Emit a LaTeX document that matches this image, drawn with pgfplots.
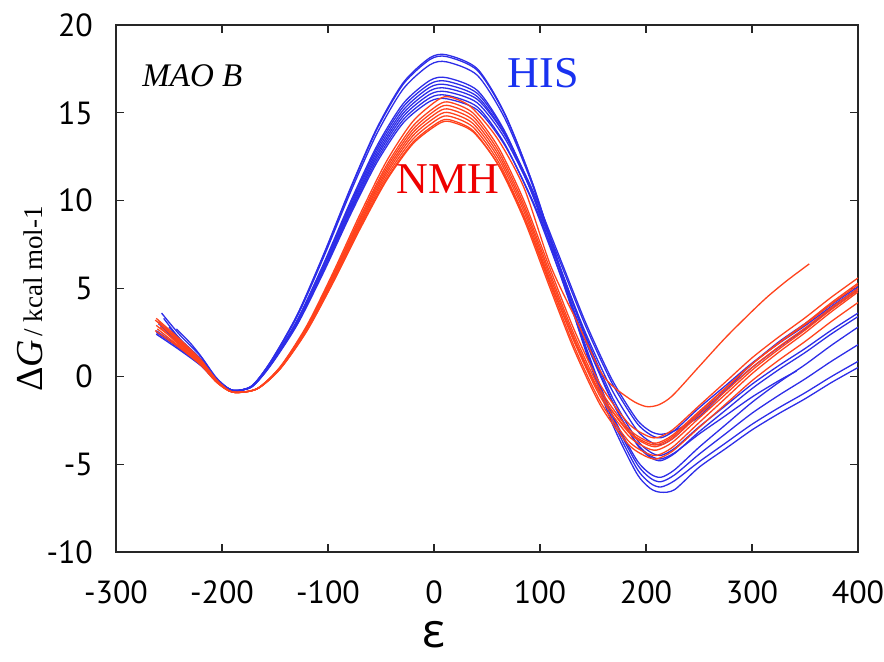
\documentclass[border=0pt]{standalone}
\usepackage{fontspec}
\setmainfont{Liberation Serif}
\newfontfamily\tickfont{PT Sans}
\newfontfamily\epsfont{Open Sans}
\usepackage{pgfplots}
\pgfplotsset{compat=1.18}
\definecolor{hisblue}{RGB}{45,45,232}
\definecolor{nmhred}{RGB}{255,66,28}
\definecolor{histext}{RGB}{25,50,240}
\definecolor{nmhtext}{RGB}{238,0,0}
\begin{document}
\begin{tikzpicture}
\begin{axis}[name=ax,
  scale only axis, width=371pt, height=263.5pt,
  xmin=-300, xmax=400, ymin=-10, ymax=20,
  clip mode=individual,
  xtick={-300,-200,-100,0,100,200,300,400},
  xticklabels={-300,-200,-100,0,100,200,300,400},
  ytick={-10,-5,0,5,10,15,20},
  yticklabels={-10,-5,0,5,10,15,20},
  tick align=inside, major tick length=3.8pt,
  axis line style={line width=0.75pt, black!85},
  every tick/.style={black!85, line width=0.6pt},
  ticklabel style={font=\tickfont\fontsize{16}{18}\selectfont},
  xticklabel style={yshift=-11pt},
  yticklabel style={xshift=-8pt},
  xlabel={ε},
  xlabel style={font=\epsfont\fontsize{24}{26}\selectfont, at={(axis description cs:0.4286,-0.1575)}, anchor=center},
  every axis plot/.append style={line width=0.65pt, smooth, tension=0.45},
]
% HIS (blue)
\addplot[hisblue] coordinates {(-257,3.6)(-240,2.37)(-220,1.14)(-205,-0.1)(-190,-0.8)(-172,-0.55)(-154,0.85)(-129,3.51)(-104,6.96)(-79,10.69)(-54,14.12)(-29,16.72)(-4,18.13)(12,18.3)(41,17.50)(67,14.93)(93,10.97)(118,6.24)(143,1.45)(168,-2.67)(191,-5.50)(204,-6.38)(214,-6.6)(227,-6.45)(250,-5.18)(275,-4.12)(300,-3.05)(325,-2.13)(350,-1.28)(375,-0.35)(400,0.5)};
\addplot[hisblue] coordinates {(-262,2.5)(-240,1.58)(-220,0.65)(-205,-0.25)(-190,-0.8)(-172,-0.55)(-154,0.84)(-129,3.48)(-104,6.92)(-79,10.63)(-54,14.04)(-29,16.63)(-4,18.03)(12,18.2)(41,17.41)(67,14.88)(93,10.99)(118,6.33)(143,1.62)(168,-2.43)(191,-5.21)(204,-6.08)(214,-6.3)(227,-5.94)(250,-4.87)(275,-3.80)(300,-2.73)(325,-1.80)(350,-0.94)(375,-0.01)(400,0.85)};
\addplot[hisblue] coordinates {(-260,3.0)(-240,1.94)(-220,0.87)(-205,-0.2)(-190,-0.8)(-172,-0.56)(-154,0.82)(-129,3.42)(-104,6.80)(-79,10.45)(-54,13.80)(-29,16.36)(-4,17.73)(12,17.9)(41,17.13)(67,14.66)(93,10.87)(118,6.33)(143,1.73)(168,-2.23)(191,-4.94)(204,-5.79)(214,-6.0)(227,-5.61)(250,-4.44)(275,-3.27)(300,-2.10)(325,-1.09)(350,-0.15)(375,0.86)(400,1.8)};
\addplot[hisblue] coordinates {(-243,2.7)(-230,1.9)(-220,1.15)(-205,-0.15)(-190,-0.8)(-172,-0.58)(-154,0.74)(-129,3.21)(-104,6.43)(-79,9.91)(-54,13.10)(-29,15.53)(-4,16.84)(12,17.0)(41,16.27)(67,13.92)(93,10.31)(118,5.98)(143,1.61)(168,-2.16)(191,-4.74)(204,-5.55)(214,-5.75)(227,-5.32)(250,-4.04)(275,-2.76)(300,-1.48)(325,-0.36)(350,0.66)(375,1.77)(400,2.8)};
\addplot[hisblue] coordinates {(-258,2.9)(-240,1.86)(-220,0.83)(-205,-0.2)(-190,-0.8)(-172,-0.58)(-154,0.72)(-129,3.17)(-104,6.35)(-79,9.79)(-54,12.95)(-29,15.35)(-4,16.64)(12,16.8)(41,16.10)(67,13.87)(93,10.45)(118,6.34)(143,2.18)(168,-1.39)(191,-3.84)(204,-4.61)(214,-4.8)(227,-4.39)(250,-3.16)(275,-1.93)(300,-0.70)(325,0.37)(350,1.35)(375,2.42)(400,3.4)};
\addplot[hisblue] coordinates {(-255,3.3)(-240,2.15)(-220,1.00)(-205,-0.15)(-190,-0.8)(-172,-0.58)(-154,0.70)(-129,3.12)(-104,6.27)(-79,9.66)(-54,12.79)(-29,15.16)(-4,16.45)(12,16.6)(41,15.92)(67,13.74)(93,10.39)(118,6.38)(143,2.32)(168,-1.17)(191,-3.57)(204,-4.31)(214,-4.5)(227,-4.10)(250,-2.88)(275,-1.67)(300,-0.45)(325,0.60)(350,1.58)(375,2.63)(400,3.6)};
\addplot[hisblue] coordinates {(-262,2.6)(-240,1.65)(-220,0.70)(-205,-0.27)(-190,-0.8)(-172,-0.59)(-154,0.69)(-129,3.08)(-104,6.19)(-79,9.54)(-54,12.63)(-29,14.98)(-4,16.25)(12,16.4)(41,15.76)(67,13.73)(93,10.60)(118,6.86)(143,3.07)(168,-0.19)(191,-2.43)(204,-3.12)(214,-3.3)(227,-3.1)(250,-2.3)(275,-0.8)(300,0.70)(325,1.95)(350,3.00)(375,4.09)(400,5.1)};
\addplot[hisblue] coordinates {(-260,3.1)(-240,2.01)(-220,0.92)(-205,-0.18)(-190,-0.8)(-172,-0.59)(-154,0.67)(-129,3.03)(-104,6.11)(-79,9.42)(-54,12.48)(-29,14.80)(-4,16.05)(12,16.2)(41,15.56)(67,13.53)(93,10.40)(118,6.66)(143,2.87)(168,-0.39)(191,-2.63)(204,-3.32)(214,-3.5)(227,-3.08)(250,-1.80)(275,-0.53)(300,0.75)(325,1.86)(350,2.88)(375,3.98)(400,5.0)};
\addplot[hisblue] coordinates {(-250,2.8)(-240,2.15)(-220,0.8)(-205,-0.2)(-190,-0.8)(-172,-0.6)(-154,0.65)(-129,2.99)(-104,6.03)(-79,9.30)(-54,12.32)(-29,14.61)(-4,15.85)(12,16.0)(41,15.33)(67,13.20)(93,9.91)(118,5.98)(143,1.99)(168,-1.43)(191,-3.78)(204,-4.52)(214,-4.7)(227,-4.35)(250,-3.29)(275,-2.24)(300,-1.18)(325,-0.26)(342,0.3)};
\addplot[hisblue] coordinates {(-262,2.4)(-240,1.50)(-220,0.61)(-205,-0.3)(-190,-0.8)(-172,-0.6)(-154,0.63)(-129,2.94)(-104,5.94)(-79,9.18)(-54,12.16)(-29,14.43)(-4,15.65)(12,15.8)(41,15.16)(67,13.13)(93,10.00)(118,6.26)(143,2.47)(168,-0.79)(191,-3.03)(204,-3.72)(214,-3.9)(227,-3.46)(250,-2.14)(275,-0.82)(300,0.50)(325,1.64)(350,2.70)(375,3.84)(400,4.9)};
% NMH (red)
\addplot[nmhred] coordinates {(-263,3.2)(-240,2.05)(-220,0.90)(-205,-0.23)(-190,-0.9)(-167,-0.7)(-145,0.55)(-120,2.89)(-95,5.93)(-70,9.20)(-45,12.22)(-20,14.51)(4,15.75)(15,15.9)(35,15.33)(60,13.52)(85,10.72)(110,6.3)(135,3.1)(160,0.0)(185,-1.3)(200,-1.72)(212,-1.62)(225,-1.1)(250,0.55)(275,2.2)(300,3.7)(315,4.55)(333,5.45)(354,6.4)};
\addplot[nmhred] coordinates {(-262,2.9)(-240,1.84)(-220,0.77)(-205,-0.29)(-190,-0.9)(-167,-0.7)(-145,0.53)(-120,2.82)(-95,5.80)(-70,9.02)(-45,11.99)(-20,14.24)(4,15.45)(15,15.6)(37,14.98)(61,13.01)(85,9.98)(108,6.35)(132,2.68)(157,-0.49)(183,-2.65)(199,-3.33)(210,-3.5)(225,-3.05)(250,-1.68)(275,-0.32)(300,1.05)(325,2.23)(350,3.33)(375,4.51)(400,5.6)};
\addplot[nmhred] coordinates {(-260,3.1)(-240,1.98)(-220,0.86)(-205,-0.25)(-190,-0.9)(-167,-0.71)(-145,0.51)(-120,2.78)(-95,5.72)(-70,8.90)(-45,11.83)(-20,14.05)(4,15.26)(15,15.4)(37,14.78)(61,12.80)(85,9.75)(108,6.10)(132,2.41)(157,-0.77)(183,-2.95)(199,-3.63)(210,-3.8)(225,-3.35)(250,-2.0)(275,-0.65)(300,0.70)(325,1.87)(350,2.95)(375,4.12)(400,5.2)};
\addplot[nmhred] coordinates {(-261,2.7)(-240,1.69)(-220,0.68)(-205,-0.33)(-190,-0.9)(-167,-0.71)(-145,0.49)(-120,2.73)(-95,5.64)(-70,8.78)(-45,11.67)(-20,13.87)(4,15.06)(15,15.2)(37,14.58)(61,12.60)(85,9.55)(108,5.90)(132,2.21)(157,-0.97)(183,-3.15)(199,-3.83)(210,-4.0)(225,-3.55)(250,-2.2)(275,-0.85)(300,0.5)(325,1.67)(350,2.75)(375,3.92)(400,5.0)};
\addplot[nmhred] coordinates {(-259,3.0)(-240,1.91)(-220,0.82)(-205,-0.27)(-190,-0.9)(-167,-0.71)(-145,0.47)(-120,2.69)(-95,5.56)(-70,8.66)(-45,11.52)(-20,13.69)(4,14.86)(15,15.0)(37,14.38)(61,12.40)(85,9.35)(108,5.70)(132,2.01)(157,-1.17)(183,-3.35)(199,-4.03)(210,-4.2)(225,-3.75)(250,-2.38)(275,-1.02)(300,0.35)(325,1.53)(350,2.63)(375,3.81)(400,4.9)};
\addplot[nmhred] coordinates {(-263,2.6)(-240,1.62)(-220,0.64)(-205,-0.35)(-190,-0.9)(-167,-0.72)(-145,0.46)(-120,2.64)(-95,5.48)(-70,8.54)(-45,11.36)(-20,13.50)(4,14.66)(15,14.8)(37,14.18)(61,12.19)(85,9.12)(108,5.45)(132,1.74)(157,-1.45)(183,-3.65)(199,-4.33)(210,-4.5)(225,-4.04)(250,-2.64)(275,-1.25)(300,0.15)(325,1.36)(350,2.48)(375,3.68)(400,4.8)};
\addplot[nmhred] coordinates {(-258,2.8)(-240,1.76)(-220,0.73)(-205,-0.31)(-190,-0.9)(-167,-0.72)(-145,0.44)(-120,2.60)(-95,5.40)(-70,8.42)(-45,11.21)(-20,13.32)(4,14.46)(15,14.6)(37,13.98)(61,11.99)(85,8.92)(108,5.25)(132,1.54)(157,-1.65)(183,-3.85)(199,-4.53)(210,-4.7)(225,-4.26)(250,-2.92)(275,-1.59)(300,-0.25)(325,0.91)(350,1.98)(375,3.13)(400,4.2)};
\addplot[nmhred] coordinates {(-262,3.3)(-240,2.12)(-220,0.95)(-205,-0.21)(-190,-0.9)(-167,-0.72)(-145,0.43)(-120,2.57)(-95,5.36)(-70,8.36)(-45,11.13)(-20,13.23)(4,14.36)(15,14.5)(37,13.91)(61,12.01)(85,9.09)(108,5.59)(132,2.05)(157,-1.00)(183,-3.09)(199,-3.74)(210,-3.9)(225,-3.44)(250,-2.06)(275,-0.68)(300,0.70)(325,1.90)(350,3.00)(375,4.20)(400,5.3)};
% annotations
\node[font=\fontsize{16.5}{18}\selectfont\itshape] at (axis cs:-228,17.1) {MAO B};
\node[text=histext, font=\fontsize{22}{24}\selectfont] at (axis cs:103,17.25) {HIS};
\node[text=nmhtext, font=\fontsize{22}{24}\selectfont] at (axis cs:13,11.2) {NMH};
\node[rotate=90, anchor=center] at (rel axis cs:-0.116,0.48) {{\fontsize{19}{20}\selectfont Δ\textit{G}}\,{\fontsize{13.5}{15}\selectfont / kcal mol-1}};
\end{axis}
\pgfresetboundingbox
\path[use as bounding box] ([shift={(-58pt,-55pt)}]ax.south west) rectangle ([shift={(13pt,12.5pt)}]ax.north east);
\end{tikzpicture}
\end{document}
